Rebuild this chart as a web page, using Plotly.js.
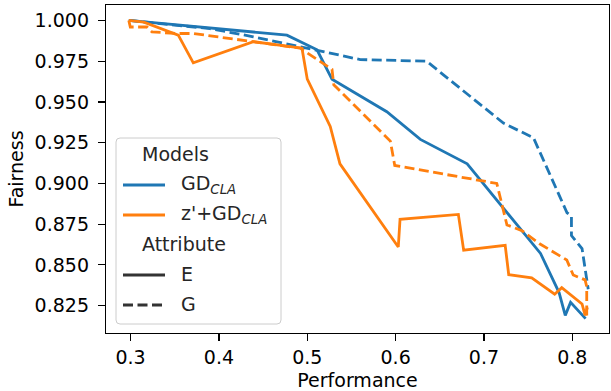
<!DOCTYPE html>
<html>
<head>
<meta charset="utf-8">
<script src="https://cdn.plot.ly/plotly-3.0.1.min.js"></script>
<style>html,body{margin:0;padding:0;background:#fff;}#chart{width:611px;height:391px;}</style>
</head>
<body>
<div id="chart"></div>
<script>
// ---- data ----
var gdE_x = [0.298, 0.477, 0.511, 0.528, 0.590, 0.628, 0.681, 0.764, 0.785, 0.792, 0.798, 0.815];
var gdE_y = [1.000, 0.991, 0.982, 0.964, 0.944, 0.927, 0.912, 0.857, 0.833, 0.819, 0.827, 0.817];

var gdG_x = [0.298, 0.390, 0.439, 0.492, 0.515, 0.560, 0.635, 0.722, 0.756, 0.794, 0.799, 0.799, 0.805, 0.811, 0.818];
var gdG_y = [1.000, 0.995, 0.990, 0.984, 0.981, 0.976, 0.975, 0.937, 0.928, 0.882, 0.880, 0.868, 0.864, 0.860, 0.835];

var zE_x = [0.298, 0.315, 0.354, 0.371, 0.439, 0.494, 0.500, 0.526, 0.537, 0.603, 0.605, 0.671, 0.677, 0.724, 0.728, 0.754, 0.780, 0.788, 0.811, 0.8145, 0.817];
var zE_y = [1.000, 0.999, 0.991, 0.974, 0.987, 0.983, 0.964, 0.935, 0.912, 0.861, 0.878, 0.881, 0.859, 0.862, 0.844, 0.842, 0.832, 0.836, 0.826, 0.819, 0.824];

var zG_x = [0.298, 0.2997, 0.3186, 0.3242, 0.3525, 0.3713, 0.492, 0.515, 0.528, 0.530, 0.594, 0.599, 0.7145, 0.726, 0.743, 0.763, 0.7937, 0.801, 0.8144, 0.8163, 0.8163];
var zG_y = [1.000, 0.996, 0.996, 0.993, 0.992, 0.992, 0.983, 0.975, 0.970, 0.9605, 0.926, 0.911, 0.900, 0.8745, 0.871, 0.863, 0.853, 0.8438, 0.8408, 0.8367, 0.8186];

var xTicks = [0.3, 0.4, 0.5, 0.6, 0.7, 0.8];
var xTickLabels = ["0.3", "0.4", "0.5", "0.6", "0.7", "0.8"];
var yTicks = [0.825, 0.850, 0.875, 0.900, 0.925, 0.950, 0.975, 1.000];
var yTickLabels = ["0.825", "0.850", "0.875", "0.900", "0.925", "0.950", "0.975", "1.000"];

var modelNames = ["GD<sub><i>CLA</i></sub>", "z'+GD<sub><i>CLA</i></sub>"];
var attrNames = ["E", "G"];
var colors = ["#1f77b4", "#ff7f0e"];

// ---- layout geometry ----
var W = 611, H = 391;
var mL = 106, mR = 2, mT = 5, mB = 58;
var pw = W - mL - mR, ph = H - mT - mB;
function px(x) { return (x - mL) / pw; }
function py(y) { return 1 - (y - mT) / ph; }

var FONT = "DejaVu Sans, Liberation Sans, sans-serif";
var LW = 2.8;
var DASH = "10px,4.5px";

function tr(x, y, c, dash) {
  return {x: x, y: y, type: "scatter", mode: "lines", showlegend: false, hoverinfo: "skip",
          line: {color: c, width: LW, dash: dash}};
}
var data = [
  tr(gdE_x, gdE_y, colors[0], "solid"),
  tr(gdG_x, gdG_y, colors[0], DASH),
  tr(zE_x, zE_y, colors[1], "solid"),
  tr(zG_x, zG_y, colors[1], DASH)
];

// custom legend (matplotlib/seaborn style)
var bx0 = 116, bx1 = 281, by0 = 138, by1 = 324, r = 4;
function rr(x0, y0, x1, y1, r) {
  var X0 = px(x0), X1 = px(x1), Y0 = py(y0), Y1 = py(y1);
  var rx = r / pw, ry = r / ph;
  return "M" + (X0 + rx) + "," + Y0 + " L" + (X1 - rx) + "," + Y0 +
    " Q" + X1 + "," + Y0 + " " + X1 + "," + (Y0 - ry) +
    " L" + X1 + "," + (Y1 + ry) + " Q" + X1 + "," + Y1 + " " + (X1 - rx) + "," + Y1 +
    " L" + (X0 + rx) + "," + Y1 + " Q" + X0 + "," + Y1 + " " + X0 + "," + (Y1 + ry) +
    " L" + X0 + "," + (Y0 - ry) + " Q" + X0 + "," + Y0 + " " + (X0 + rx) + "," + Y0 + " Z";
}
var shapes = [{type: "path", xref: "paper", yref: "paper", path: rr(bx0, by0, bx1, by1, r),
  fillcolor: "rgba(255,255,255,0.8)", line: {color: "#cccccc", width: 1}}];
var annotations = [];
var rows = [
  {kind: "title", text: "Models", y: 155},
  {kind: "item", text: modelNames[0], y: 185, color: colors[0], dash: "solid"},
  {kind: "item", text: modelNames[1], y: 215, color: colors[1], dash: "solid"},
  {kind: "title", text: "Attribute", y: 245},
  {kind: "item", text: attrNames[0], y: 275, color: "#333333", dash: "solid"},
  {kind: "item", text: attrNames[1], y: 305, color: "#333333", dash: DASH}
];
rows.forEach(function (row) {
  if (row.kind === "item") {
    shapes.push({type: "line", xref: "paper", yref: "paper", x0: px(123), x1: px(165), y0: py(row.y), y1: py(row.y),
      line: {color: row.color, width: LW, dash: row.dash}});
  }
  annotations.push({xref: "paper", yref: "paper", x: px(row.kind === "title" ? 140 : 179), y: py(row.y - 1),
    xanchor: "left", yanchor: "middle", showarrow: false, text: row.text,
    font: {family: FONT, size: 19, color: "#262626"}});
});

var layout = {
  width: W, height: H,
  margin: {l: mL, r: mR, t: mT, b: mB, pad: 0},
  paper_bgcolor: "#ffffff", plot_bgcolor: "#ffffff",
  font: {family: FONT, size: 19, color: "#000000"},
  showlegend: false,
  xaxis: {
    range: [0.2722, 0.8415], tickmode: "array", tickvals: xTicks, ticktext: xTickLabels,
    ticks: "outside", ticklen: 7, tickwidth: 1.2, tickcolor: "#000",
    showgrid: false, zeroline: false, showline: true, linecolor: "#000", linewidth: 1.2, mirror: true,
    tickfont: {family: FONT, size: 19, color: "#000"},
    title: {text: "Performance", font: {family: FONT, size: 19, color: "#000"}, standoff: 6}
  },
  yaxis: {
    range: [0.8082, 1.0095], tickmode: "array", tickvals: yTicks, ticktext: yTickLabels,
    ticks: "outside", ticklen: 7, tickwidth: 1.2, tickcolor: "#000", ticklabelstandoff: 5,
    showgrid: false, zeroline: false, showline: true, linecolor: "#000", linewidth: 1.2, mirror: true,
    tickfont: {family: FONT, size: 19, color: "#000"},
    title: {text: "Fairness", font: {family: FONT, size: 19, color: "#000"}, standoff: 6}
  },
  shapes: shapes,
  annotations: annotations
};

Plotly.newPlot("chart", data, layout, {staticPlot: true, displayModeBar: false});
</script>
</body>
</html>
